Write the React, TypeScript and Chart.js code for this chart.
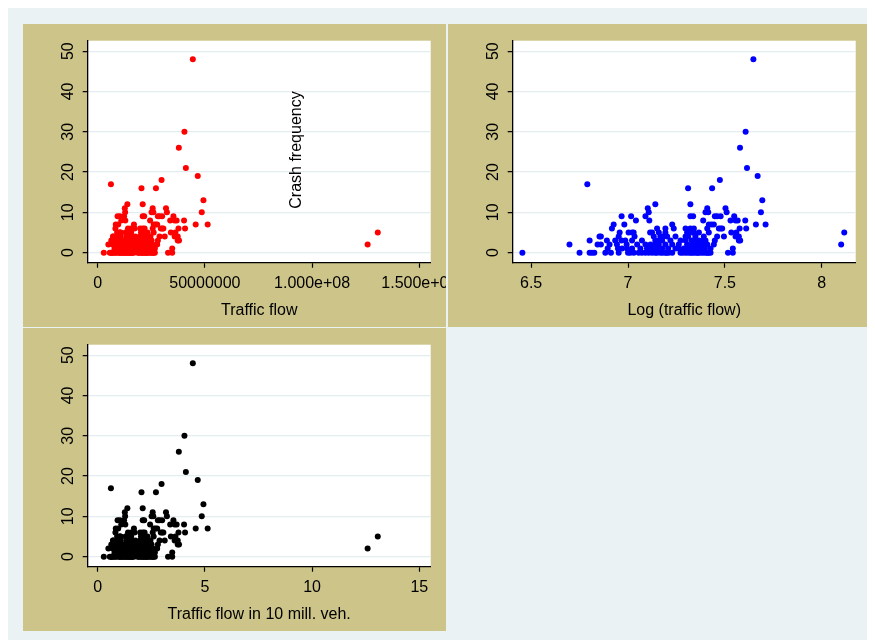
import React, { useEffect, useRef } from "react";
import { Chart, registerables } from "chart.js";

Chart.register(...registerables);

// ---- data: log10(traffic flow) and crash frequency (one entry per road section) ----
const logTrafficFlow: number[] = [
  // crashes = 0
  6.455, 6.750, 6.802, 6.814, 6.826, 6.883, 6.912, 6.952, 7.000, 7.012,
  7.030, 7.055, 7.072, 7.090, 7.107, 7.124, 7.140, 7.150, 7.167, 7.179,
  7.193, 7.200, 7.210, 7.228, 7.271, 7.283, 7.297, 7.310, 7.322, 7.330,
  7.340, 7.352, 7.360, 7.366, 7.379, 7.391, 7.403, 7.410, 7.417, 7.426,
  7.516, 7.541,
  // crashes = 1
  6.895, 6.948, 6.969, 6.995, 7.021, 7.064, 7.098, 7.124, 7.150, 7.176,
  7.207, 7.245, 7.262, 7.288, 7.314, 7.340, 7.350, 7.366, 7.380, 7.397,
  7.426, 7.541,
  // crashes = 2
  6.698, 6.843, 6.860, 6.905, 6.943, 6.993, 7.047, 7.090, 7.116, 7.140,
  7.159, 7.193, 7.228, 7.262, 7.305, 7.331, 7.357, 7.370, 7.383, 7.409,
  7.443, 8.100,
  // crashes = 3
  6.802, 6.891, 6.934, 6.966, 6.986, 7.021, 7.072, 7.141, 7.160, 7.176,
  7.219, 7.271, 7.297, 7.328, 7.340, 7.366, 7.390, 7.400, 7.448, 7.572,
  7.579,
  // crashes = 4
  6.853, 6.860, 6.952, 7.034, 7.133, 7.167, 7.180, 7.202, 7.245, 7.297,
  7.310, 7.348, 7.391, 7.460, 7.495, 7.555, 7.572,
  // crashes = 5
  6.957, 7.003, 7.021, 7.029, 7.114, 7.124, 7.159, 7.193, 7.305, 7.331,
  7.340, 7.366, 7.417, 7.533, 7.559, 8.116,
  // crashes = 6
  6.917, 7.150, 7.193, 7.236, 7.297, 7.322, 7.340, 7.409, 7.469, 7.478,
  7.486, 7.576, 7.610,
  // crashes = 7
  6.926, 6.981, 7.228, 7.417, 7.431, 7.443, 7.660, 7.710,
  // crashes = 8
  7.041, 7.110, 7.388, 7.529, 7.555, 7.566, 7.605,
  // crashes = 9
  6.967, 7.016, 7.090, 7.322, 7.336, 7.448, 7.460, 7.478, 7.548,
  // crashes = 10
  7.107, 7.400, 7.414, 7.509, 7.686,
  // crashes = 11
  7.102, 7.409, 7.503,
  // crashes = 12
  7.141, 7.322,
  // crashes = 13, 16, 16, 17, 18, 19, 21, 26, 30, 48
  7.693, 7.310, 7.434, 6.790, 7.474, 7.669, 7.614, 7.578, 7.607, 7.647,
];

const crashFrequency: number[] = [
  0, 0, 0, 0, 0, 0, 0, 0, 0, 0,
  0, 0, 0, 0, 0, 0, 0, 0, 0, 0,
  0, 0, 0, 0, 0, 0, 0, 0, 0, 0,
  0, 0, 0, 0, 0, 0, 0, 0, 0, 0,
  0, 0,
  1, 1, 1, 1, 1, 1, 1, 1, 1, 1,
  1, 1, 1, 1, 1, 1, 1, 1, 1, 1,
  1, 1,
  2, 2, 2, 2, 2, 2, 2, 2, 2, 2,
  2, 2, 2, 2, 2, 2, 2, 2, 2, 2,
  2, 2,
  3, 3, 3, 3, 3, 3, 3, 3, 3, 3,
  3, 3, 3, 3, 3, 3, 3, 3, 3, 3,
  3,
  4, 4, 4, 4, 4, 4, 4, 4, 4, 4,
  4, 4, 4, 4, 4, 4, 4,
  5, 5, 5, 5, 5, 5, 5, 5, 5, 5,
  5, 5, 5, 5, 5, 5,
  6, 6, 6, 6, 6, 6, 6, 6, 6, 6,
  6, 6, 6,
  7, 7, 7, 7, 7, 7, 7, 7,
  8, 8, 8, 8, 8, 8, 8,
  9, 9, 9, 9, 9, 9, 9, 9, 9,
  10, 10, 10, 10, 10,
  11, 11, 11,
  12, 12,
  13, 16, 16, 17, 18, 19, 21, 26, 30, 48,
];

const yTickValues = [0, 10, 20, 30, 40, 50];

const flowTicks = [0, 50000000, 100000000, 150000000];
const flowTickLabels = ["0", "50000000", "1.000e+08", "1.500e+08"];
const logTicks = [6.5, 7, 7.5, 8];
const logTickLabels = ["6.5", "7", "7.5", "8"];
const millTicks = [0, 5, 10, 15];
const millTickLabels = ["0", "5", "10", "15"];

// ---- styling ----
const FONT = '"Liberation Sans", Arial, Helvetica, sans-serif';
const TAN = "#cdc48a";
const PAGE_BG = "#eaf2f3";
const GRID = "#e3ecef";
const PANEL_W = 423;
const PANEL_H = 303;

type PanelProps = {
  left: number;
  top: number;
  xs: number[];
  color: string;
  xMin: number;
  xMax: number;
  xTickValues: number[];
  xTickLabels: string[];
  xTitle: string;
  note?: string;
};

function Panel(props: PanelProps) {
  const ref = useRef<HTMLCanvasElement | null>(null);

  useEffect(() => {
    const canvas = ref.current;
    if (!canvas) return;
    const pts = props.xs.map((x, i) => ({ x, y: crashFrequency[i] }));

    const panelPlugin = {
      id: "panelBg",
      beforeDraw(chart: any) {
        const { ctx, chartArea: a, width, height } = chart;
        ctx.save();
        ctx.fillStyle = TAN;
        ctx.fillRect(0, 0, width, height);
        ctx.fillStyle = "#ffffff";
        ctx.fillRect(a.left, a.top, a.right - a.left, a.bottom - a.top);
        ctx.restore();
      },
      afterDraw(chart: any) {
        if (!props.note) return;
        const { ctx } = chart;
        ctx.save();
        ctx.translate(273.7, 126);
        ctx.rotate(-Math.PI / 2);
        ctx.font = `16px ${FONT}`;
        ctx.fillStyle = "#000";
        ctx.textAlign = "center";
        ctx.textBaseline = "middle";
        ctx.fillText(props.note, 0, 0);
        ctx.restore();
      },
    };

    const font = { family: FONT, size: 16 };

    const chart = new Chart(canvas, {
      type: "scatter",
      data: {
        datasets: [
          {
            data: pts,
            backgroundColor: props.color,
            borderColor: props.color,
            borderWidth: 0,
            pointRadius: 3,
            pointHoverRadius: 3,
          },
        ],
      },
      options: {
        animation: false,
        responsive: false,
        devicePixelRatio: 1,
        events: [],
        layout: { padding: { left: 24.7, right: 15.3, top: 16.7, bottom: 4.3 } },
        plugins: { legend: { display: false }, tooltip: { enabled: false } },
        scales: {
          x: {
            type: "linear",
            min: props.xMin,
            max: props.xMax,
            afterBuildTicks: (s: any) => {
              s.ticks = props.xTickValues.map((v) => ({ value: v }));
            },
            afterFit: (s: any) => {
              s.height = 60;
              s.paddingLeft = 0;
              s.paddingRight = 0;
            },
            grid: {
              drawOnChartArea: false,
              drawTicks: true,
              tickLength: 5,
              tickColor: "#000",
              tickWidth: 1.2,
            },
            border: { display: true, color: "#000", width: 1.3 },
            ticks: {
              autoSkip: false,
              maxRotation: 0,
              minRotation: 0,
              padding: 6,
              color: "#000",
              font,
              callback: (_v: any, i: number) => props.xTickLabels[i],
            },
            title: {
              display: true,
              text: props.xTitle,
              color: "#000",
              font,
              padding: { top: 0, bottom: 2.4 },
            },
          },
          y: {
            type: "linear",
            min: -2.5,
            max: 52.6,
            afterBuildTicks: (s: any) => {
              s.ticks = yTickValues.map((v) => ({ value: v }));
            },
            afterFit: (s: any) => {
              s.width = 40;
              s.paddingTop = 0;
              s.paddingBottom = 0;
              s.paddingLeft = 0;
              s.paddingRight = 0;
            },
            grid: {
              color: GRID,
              lineWidth: 1.3,
              drawTicks: true,
              tickLength: 5,
              tickColor: "#000",
              tickWidth: 1.2,
            },
            border: { display: true, color: "#000", width: 1.3 },
            ticks: {
              minRotation: 90,
              maxRotation: 90,
              crossAlign: "center",
              padding: 5,
              color: "#000",
              font,
              callback: (v: any) => String(v),
            },
          },
        },
      },
      plugins: [panelPlugin],
    } as any);

    return () => chart.destroy();
  }, []);

  return (
    <canvas
      ref={ref}
      width={PANEL_W}
      height={PANEL_H}
      style={{
        position: "absolute",
        left: props.left,
        top: props.top,
        width: PANEL_W,
        height: PANEL_H,
        display: "block",
      }}
    />
  );
}

const trafficFlow = logTrafficFlow.map((v) => Math.pow(10, v));
const trafficFlowTenMill = logTrafficFlow.map((v) => Math.pow(10, v - 7));

export default function App() {
  return (
    <div
      style={{
        position: "relative",
        width: 867,
        height: 632,
        background: PAGE_BG,
        overflow: "hidden",
      }}
    >
      <Panel
        left={15}
        top={16}
        xs={trafficFlow}
        color="#ff0000"
        xMin={-4660000}
        xMax={155300000}
        xTickValues={flowTicks}
        xTickLabels={flowTickLabels}
        xTitle="Traffic flow"
        note="Crash frequency"
      />
      <Panel
        left={440}
        top={16}
        xs={logTrafficFlow}
        color="#0000ff"
        xMin={6.405}
        xMax={8.175}
        xTickValues={logTicks}
        xTickLabels={logTickLabels}
        xTitle="Log (traffic flow)"
      />
      <Panel
        left={15}
        top={320}
        xs={trafficFlowTenMill}
        color="#000000"
        xMin={-0.466}
        xMax={15.53}
        xTickValues={millTicks}
        xTickLabels={millTickLabels}
        xTitle="Traffic flow in 10 mill. veh."
      />
    </div>
  );
}
